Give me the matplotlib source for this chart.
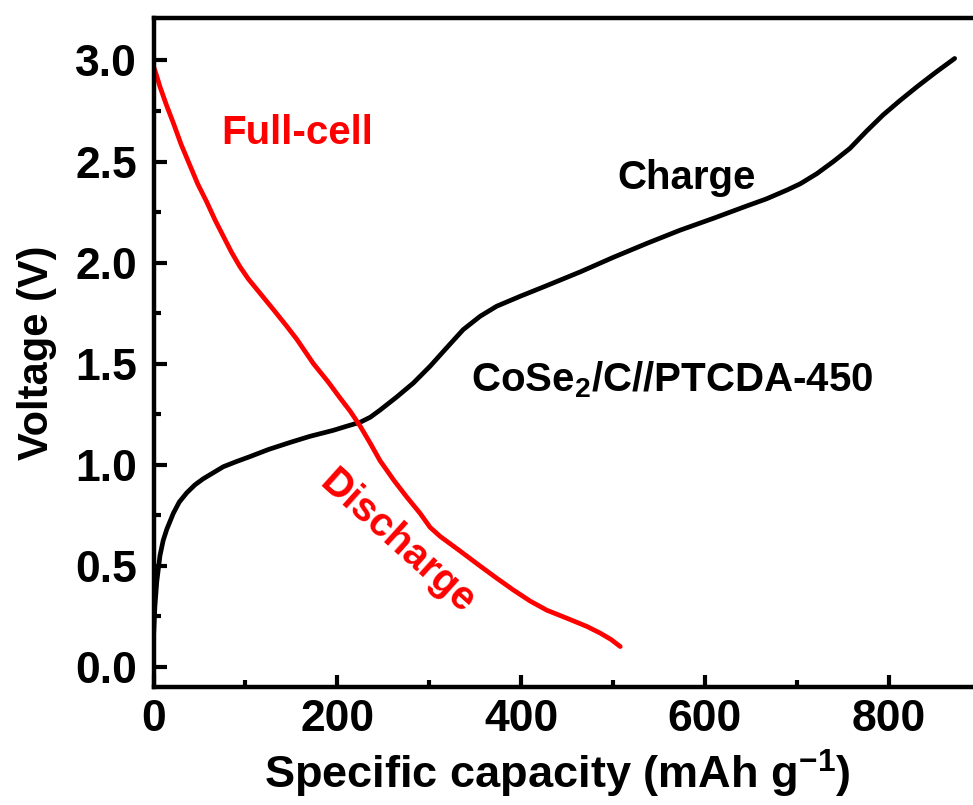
import matplotlib
matplotlib.use("Agg")
import matplotlib.pyplot as plt
from matplotlib.ticker import MultipleLocator

plt.rcParams["font.family"] = ["Liberation Sans", "DejaVu Sans"]
plt.rcParams["font.weight"] = "bold"
plt.rcParams["mathtext.fontset"] = "custom"
plt.rcParams["mathtext.rm"] = "Liberation Sans:bold"
plt.rcParams["mathtext.it"] = "Liberation Sans:bold"
plt.rcParams["mathtext.bf"] = "Liberation Sans:bold"
plt.rcParams["mathtext.default"] = "bf"

# Discharge curve (full cell)
discharge_cap = [0, 3, 7, 14, 21.6, 30, 39.7, 48, 57.9, 67, 76, 85, 94, 103,
                 112, 121, 130, 145, 156, 165, 174, 190, 203, 214, 225, 236,
                 246.5, 262, 275.6, 290, 301, 312, 333, 355, 373, 391.6, 410,
                 428, 450, 471.5, 486, 498, 508]
discharge_v = [2.97, 2.93, 2.87, 2.78, 2.69, 2.585, 2.48, 2.39, 2.30, 2.21,
               2.13, 2.05, 1.98, 1.92, 1.87, 1.82, 1.77, 1.685, 1.62, 1.56,
               1.50, 1.41, 1.33, 1.265, 1.19, 1.105, 1.02, 0.92, 0.84, 0.76,
               0.69, 0.645, 0.575, 0.50, 0.44, 0.38, 0.325, 0.28, 0.24, 0.20,
               0.167, 0.135, 0.10]

# Charge curve (full cell)
charge_cap = [0, 1.5, 3.5, 7, 10.5, 14.4, 21.6, 28, 36, 45, 54, 65, 76, 90,
              105, 125, 148.6, 170, 195.7, 210, 225, 236, 246.5, 264.7, 282.8,
              301, 319, 337, 355.4, 373.5, 399, 428, 465, 500, 537, 573, 610,
              645.6, 667, 690, 704, 722, 740, 758, 776, 794, 812, 831, 851, 872]
charge_v = [0.15, 0.30, 0.42, 0.55, 0.625, 0.68, 0.76, 0.815, 0.86, 0.90,
            0.93, 0.96, 0.99, 1.015, 1.04, 1.075, 1.11, 1.14, 1.17, 1.19, 1.21,
            1.235, 1.27, 1.335, 1.404, 1.487, 1.578, 1.668, 1.734, 1.784,
            1.833, 1.886, 1.955, 2.025, 2.095, 2.16, 2.22, 2.28, 2.315, 2.36,
            2.39, 2.44, 2.50, 2.565, 2.65, 2.73, 2.80, 2.87, 2.94, 3.01]

x_ticks = [0, 200, 400, 600, 800]
y_ticks = [0.0, 0.5, 1.0, 1.5, 2.0, 2.5, 3.0]

fig = plt.figure(figsize=(9.73, 8.05), dpi=100)
ax = fig.add_axes([0.1578, 0.1466, 0.8498, 0.831])

ax.plot(charge_cap, charge_v, color="black", lw=3.4,
        solid_capstyle="round", solid_joinstyle="round")
ax.plot(discharge_cap, discharge_v, color="#ff0000", lw=3.4,
        solid_capstyle="round", solid_joinstyle="round")

ax.set_xlim(0, 900)
ax.set_ylim(-0.1, 3.21)
ax.set_xticks(x_ticks)
ax.set_yticks(y_ticks)
ax.set_yticklabels([f"{v:.1f}" for v in y_ticks])
ax.xaxis.set_minor_locator(MultipleLocator(100))
ax.yaxis.set_minor_locator(MultipleLocator(0.25))

for s in ax.spines.values():
    s.set_linewidth(3.2)
ax.tick_params(which="major", direction="in", length=9, width=3.0,
               labelsize=32, top=False, right=False)
ax.tick_params(which="minor", direction="in", length=5, width=3.0,
               top=False, right=False)
ax.tick_params(axis="x", which="major", pad=9)
ax.tick_params(axis="y", which="major", pad=12)

ax.set_xlabel("Specific capacity (mAh g$^{-1}$)", fontsize=32.5,
              fontweight="bold", labelpad=5)
ax.xaxis.label.set_x(0.488)
ax.set_ylabel("Voltage (V)", fontsize=30, fontweight="bold", labelpad=13)

ax.text(156, 2.64, "Full-cell", color="#ff0000", fontsize=29,
        fontweight="bold", ha="center", va="center")
ax.text(580, 2.42, "Charge", color="black", fontsize=29,
        fontweight="bold", ha="center", va="center")
ax.text(345, 1.42, "CoSe$_2$/C//PTCDA-450", color="black", fontsize=29,
        fontweight="bold", ha="left", va="center")
ax.text(265, 0.62, "Discharge", color="#ff0000", fontsize=29,
        fontweight="bold", ha="center", va="center", rotation=-42,
        rotation_mode="anchor")

fig.savefig("out.png", dpi=100, facecolor="white")
